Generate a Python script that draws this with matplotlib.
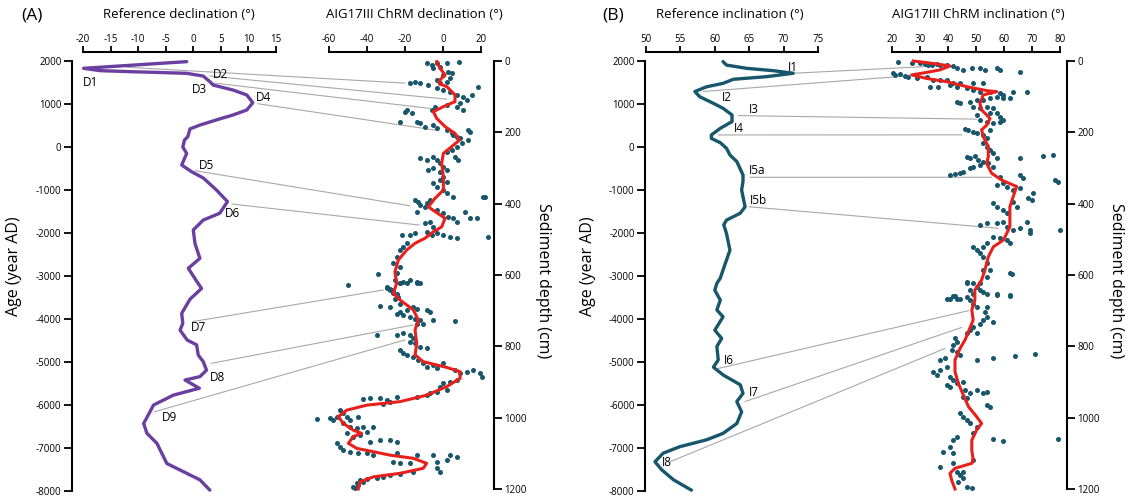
import numpy as np
import matplotlib.pyplot as plt
from matplotlib.patches import ConnectionPatch

plt.rcParams['font.family'] = ['Open Sans', 'DejaVu Sans']
plt.rcParams['axes.unicode_minus'] = False

# ---- panel A: reference declination curve (age in year AD, degrees)
refA_age = [1985, 1830, 1775, 1750, 1728, 1713, 1650, 1520, 1440, 1325, 1210, 1030, 860, 745,
            630, 510, 420, 240, 160, 0, -150, -420, -575, -720, -1000, -1270, -1540, -1700,
            -1930, -2240, -2590, -2820, -3100, -3290, -3540, -3870, -4100, -4260, -4490,
            -4600, -4840, -4990, -5190, -5340, -5420, -5610, -5770, -6000, -6430, -6660,
            -6890, -7360, -7550, -7740, -7980]
refA_val = [-1.2, -19.9, -16.9, -10.9, -4.8, -1.2, 1.8, 3.0, 3.6, 7.2, 9.7, 10.8, 9.7, 7.2,
            4.2, 1.2, -0.6, -1.0, -1.6, -1.9, -1.2, -2.1, -0.3, 1.8, 4.2, 6.2, 4.8, 1.8,
            0.0, 0.3, 1.2, -0.9, 0.5, 1.5, -0.6, -2.1, -1.9, -2.4, -1.1,
            0.6, 0.9, 1.8, 2.4, 1.2, -1.5, 1.1, -3.6, -7.2, -9.0, -8.4,
            -6.6, -4.8, -1.8, 1.2, 3.0]

# smoothed ChRM declination (depth cm, degrees)
fitA_depth = [2, 20, 39, 53, 63, 72, 95, 114, 128, 142, 161, 184, 203, 222, 240, 259, 287, 324,
              362, 385, 409, 422, 441, 465, 479, 497, 511, 530, 558, 591, 623, 651, 670, 698,
              726, 754, 792, 824, 843, 859, 871, 890, 913, 937, 955, 965, 979, 997, 1016,
              1035, 1044, 1053, 1072, 1086, 1105, 1114, 1128, 1142, 1156, 1166, 1180, 1200]
fitA_val = [-3.3, -1.6, 1.1, -1.6, -2.0, 2.0, 6.3, 6.3, 0.2, -5.1, -3.3, 1.1, 6.3, 8.6, 4.6,
            0.2, -0.7, 0.2, 0.2, -4.2, -7.7, -4.2, 1.1, -0.7, -5.1, -9.5, -14.7, -19.1, -23.5,
            -25.3, -24.4, -26.1, -22.6, -15.6, -13.0, -14.7, -13.8, -14.7, -10.4, 1.9, 9.0,
            9.0, 1.9, -8.6, -22.6, -40.2, -50.7, -55.1, -52.5, -47.2, -42.8, -47.2, -49.8,
            -45.4, -27.9, -15.6, -8.6, -10.4, -22.6, -36.7, -43.7, -44.6]

# individual ChRM declinations (depth cm, degrees)
ptsA_depth = [7, 11, 5, 5, 2, 21, 16, 30, 35, 39, 49, 58, 53, 63, 63, 58, 63, 67, 77, 81, 86, 95,
              100, 109, 95, 72, 119, 136, 128, 123, 128, 136, 142, 137, 147, 170, 170, 175, 184,
              180, 189, 194, 203, 208, 212, 217, 194, 198, 222, 231, 240, 250, 254, 268, 278,
              273, 278, 268, 278, 287, 296, 306, 310, 301, 306, 324, 334, 338, 343, 352, 362,
              371, 380, 390, 394, 404, 408, 423, 390, 399, 418, 427, 437, 441, 451, 423, 441,
              441, 380, 380, 455, 451, 465, 479, 488, 483, 488, 493, 497, 493, 488, 488, 481,
              511, 521, 530, 549, 567, 577, 595, 614, 623, 619, 614, 619, 622, 598, 628, 637,
              642, 651, 661,
              638, 642, 633, 623, 623, 623, 652, 666, 680, 687, 689, 708, 703, 698, 689, 694,
              698, 703, 712, 717, 722, 726, 736, 736, 726, 728, 768, 768, 764, 768, 778, 787,
              792, 801, 806, 810, 820, 824, 829, 838, 848, 857, 852, 862, 848, 866, 876, 871,
              866, 876, 885, 894, 899, 904, 913, 923, 927, 932, 937, 941, 943, 951, 946, 946,
              949, 955, 962, 979, 988, 997, 1007, 1002, 1005, 997, 1007, 997, 1016, 1025, 1030,
              1025, 1025, 1044, 1053, 1049, 1039, 1072, 1082, 1091, 1096, 1100, 1067, 1063,
              1063, 1067, 1100, 1105, 1100, 1105, 1105, 1105, 1110, 1124, 1119, 1124, 1128,
              1128, 1142, 1152, 1152, 1159, 1161, 1166, 1168, 1173, 1175, 1184, 1194, 1198,
              1189, 1180]
ptsA_val = [-8.6, -6.0, -3.3, 1.9, 8.6, -5.1, -1.6, 2.8, 4.6, 0.2, 3.7, 1.9, -3.3, -1.6, -17.4,
            -14.7, -12.1, -7.7, -3.3, 0.2, 3.7, 7.2, 10.7, 12.5, 15.1, 18.6, 8.9, 10.7, 7.2,
            1.9, -4.2, -6.0, -20.0, -19.1, -16.5, -22.6, -13.9, -12.1, -9.5, -5.1, -3.3, 1.9,
            4.6, 5.4, 7.2, 8.9, 13.3, 14.2, 13.3, 9.8, 7.2, 4.6, 1.9, 6.3, 8.1, -12.1, -8.6,
            -5.1, -3.3, -1.6, 0.2, 1.9, -1.6, -5.1, -7.7, 0.2, -1.6, 1.9, -5.1, -3.3, 0.2,
            1.9, 5.4, -14.7, -13.0, -12.1, -9.5, -13.9, -6.8, -8.6, -3.3, 0.2, 2.8, 5.4, 7.2,
            11.6, 14.2, 17.7, 21.2, 22.1, -9.5, -6.8, -5.1, -8.6, -6.0, -3.3, 0.2, 3.7, 7.2,
            23.9, -21.8, -17.4, -14.7, -19.1, -20.9, -22.6, -24.4, -26.1, -22.6, -24.4, -25.3,
            -22.6, -20.9, -17.4, -13.9, -12.1, -34.0, -49.8, -29.6, -27.9, -26.1, -23.5,
            -27.9, -26.1, -29.6, -22.6, -19.1, -13.9, -24.4, -25.3, -22.6, -33.2, -27.9,
            -24.4, -22.6, -19.1, -15.6, -13.9, -8.6, -6.8, -20.9, -17.4, -14.7, -12.1, -13.9,
            -10.4, -5.1, 6.3, -24.4, -34.9, -20.9, -17.4, -15.6, -17.4, -14.7, -12.1, -8.6,
            -22.6, -20.9, -19.1, -15.6, -13.0, -10.4, -8.6, -5.1, -3.3, 0.2, 6.3, 8.9, 12.5,
            16.0, 19.5, 20.4, 7.2, 3.7, 0.2, -1.6, 1.9, -3.3, -6.8, -8.6, -13.9, -24.4, -29.6,
            -33.2, -38.4, -41.9, -27.9, -31.4, -54.2, -52.5, -56.0, -57.7, -59.5, -66.5,
            -50.7, -48.9, -44.6, -52.5, -48.9, -45.4, -41.9, -36.7, -50.7, -47.2, -43.7,
            -40.2, -56.0, -54.2, -52.5, -48.9, -44.6, -38.4, -33.2, -27.9, -24.4, -40.2,
            -36.7, -24.4, -13.9, -5.1, 3.7, 7.2, -3.3, 1.9, -26.1, -22.6, -17.4, -3.3, -1.6,
            -15.6, -22.6, -27.9, -31.4, -34.9, -40.2, -43.7, -45.4, -47.2, -46.3, -44.6, -41.9]

# tie points D1-D9: (age, ref value) -> (depth, ChRM value)
tieA_names = ['D1', 'D2', 'D3', 'D4', 'D5', 'D6', 'D7', 'D8', 'D9']
tieA_age = [1855, 1651, 1490, 1007, -551, -1326, -4060, -5030, -6160]
tieA_ref = [-12.0, 3.0, 3.6, 11.7, 0.3, 7.0, -0.1, 3.3, -7.1]
tieA_depth = [62, 107, 133, 195, 406, 460, 642, 740, 782]
tieA_val = [-20.0, 2.0, -6.8, -2.6, -17.4, -12.5, -31.4, -15.6, -20.0]
labA_age = [1495, 1686, 1326, 1140, -419, -1547, -4209, -5349, -6302]
labA_ref = [-18.7, 4.9, 1.1, 12.7, 2.4, 7.1, 0.9, 4.4, -4.3]

# ---- panel B: reference inclination curve
refB_age = [1985, 1905, 1830, 1775, 1715, 1635, 1575, 1480, 1400, 1290, 1170, 1015, 900, 745,
            590, 435, 280, 200, 100, -30, -185, -340, -650, -800, -1000, -1390, -1540, -1700,
            -1810, -2010, -2400, -2630, -2860, -3050, -3170, -3330, -3560, -3790, -3950,
            -4260, -4450, -4640, -4950, -5120, -5300, -5530, -5730, -5920, -6160, -6430,
            -6660, -6810, -6970, -7120, -7320, -7510, -7740, -7980]
refB_val = [61.2, 61.7, 64.6, 68.5, 71.4, 67.5, 62.7, 61.2, 58.8, 57.1, 57.8, 59.8, 61.2, 62.5,
            62.5, 60.8, 59.5, 59.5, 60.8, 61.7, 62.2, 63.2, 64.1, 64.1, 63.9, 64.4, 63.7, 61.7,
            61.3, 61.7, 62.2, 61.7, 61.2, 60.8, 60.3, 60.0, 60.8, 60.3, 61.2,
            60.0, 61.0, 60.3, 60.5, 59.8, 61.2, 63.7, 64.1, 63.2, 63.9, 63.2,
            61.2, 58.8, 54.9, 52.5, 51.3, 52.3, 54.0, 56.6]

fitB_depth = [0, 7, 14, 25, 32, 39, 49, 58, 72, 83, 86, 95, 119, 137, 161, 180, 193, 212, 240,
              268, 287, 315, 334, 352, 380, 409, 437, 465, 502, 521, 549, 586, 614, 642, 670,
              698, 726, 759, 782, 806, 838, 871, 904, 937, 969, 997, 1016, 1035, 1063, 1091,
              1119, 1128, 1142, 1156, 1175, 1200]
fitB_val = [27.6, 34.8, 40.7, 37.1, 32.4, 27.0, 32.4, 39.5, 46.7, 53.8, 57.4, 52.6, 51.4, 52.0,
            55.0, 53.8, 52.0, 52.6, 54.4, 54.4, 53.8, 55.6, 59.2, 64.5, 63.3, 62.1, 62.1, 62.1,
            59.8, 56.2, 54.4, 53.2, 52.0, 49.6, 49.6, 48.5, 49.0, 47.3, 46.1, 44.3, 42.5,
            42.5, 43.7, 45.5, 47.3, 50.2, 52.0, 50.2, 48.5, 48.5, 49.0, 48.5, 42.5, 40.7,
            41.3, 42.5]

ptsB_depth = [2, 5, 7, 8, 11, 11, 8, 11, 11, 14, 21, 25, 21, 21, 25, 21, 25, 30, 35, 39, 37, 42,
              44, 49, 44, 53, 53, 53, 61, 63, 61, 61, 72, 72, 67, 72, 77, 81, 86, 86, 91, 95, 86,
              86, 114, 117, 114, 109, 109, 105, 100, 105, 105, 128, 133, 128, 133, 147, 147, 156,
              165, 151, 165, 170, 175, 170, 191, 194, 198, 203, 208, 217, 194, 231, 240, 250,
              259, 268, 273, 266, 278, 282, 287, 273, 273, 266, 264, 320, 317, 313, 310, 301,
              296, 292, 296, 324, 343, 320, 329, 348, 352, 362, 357, 371, 385, 390, 334, 338,
              399, 408, 418, 427, 394, 408, 460, 455, 455, 451, 465, 474, 469, 451, 474, 483,
              474, 493, 497, 502, 511, 511, 521, 521, 530, 539, 549, 567, 586, 586, 605, 623,
              619, 642, 652, 647, 595, 597, 666, 659, 666, 656, 659,
              622, 623, 633, 642, 652, 652, 656, 666, 659, 666, 661, 670, 680, 689, 689, 703,
              717, 726, 731, 736, 745, 754, 764, 764, 778, 787, 796, 810, 815, 824, 838, 834,
              838, 834, 827, 822, 871, 881, 867, 857, 885, 895, 909, 913, 904, 899, 923, 932,
              923, 932, 927, 965, 969, 941, 946, 988, 997, 1007, 1016, 1025, 1044, 1061, 1065,
              1061, 1053, 1063, 1082, 1096, 1100, 1119, 1128, 1138, 1152, 1161, 1170, 1180,
              1194, 1198, 1152]
ptsB_val = [22.3, 27.0, 30.0, 31.8, 33.0, 34.2, 36.0, 37.1, 39.5, 41.9, 43.1, 45.5, 48.5, 51.4,
            53.2, 57.4, 58.6, 65.7, 20.5, 21.1, 22.9, 24.6, 25.8, 28.8, 32.4, 34.8, 37.1, 39.5,
            41.9, 44.3, 49.0, 52.6, 33.6, 36.5, 40.7, 43.1, 46.7, 49.0, 51.4, 55.0, 58.6, 59.8,
            63.3, 68.1, 43.1, 44.3, 47.9, 50.2, 52.6, 55.0, 57.4, 59.8, 62.1, 49.0, 51.4, 53.8,
            56.2, 55.0, 57.4, 58.6, 59.8, 50.2, 51.4, 53.8, 56.2, 58.6, 46.1, 47.3, 49.0, 50.2,
            52.6, 53.8, 55.0, 52.6, 53.8, 55.0, 56.2, 46.7, 47.9, 49.6, 50.8, 52.6, 54.4, 57.4,
            65.7, 74.0, 77.6, 40.7, 42.5, 44.3, 45.5, 47.9, 49.0, 51.4, 56.2, 58.6, 59.8, 65.7,
            66.9, 57.4, 61.0, 63.3, 65.7, 70.5, 68.7, 69.9, 78.2, 79.4, 56.2, 57.4, 59.8, 61.0,
            63.3, 64.5, 51.4, 53.8, 57.4, 59.8, 61.0, 63.3, 65.7, 68.1, 69.3, 69.3, 80.0, 56.2,
            58.6, 61.0, 62.1, 53.8, 52.6, 49.0, 50.2, 51.4, 52.6, 53.8, 55.0, 52.6, 53.8, 51.4,
            46.7, 47.9, 49.0, 52.6, 62.1, 62.7, 40.7, 42.5, 44.3, 57.4, 62.1,
            46.7, 49.0, 50.2, 51.4, 53.8, 57.4, 62.1, 39.5, 41.9, 43.1, 46.7, 47.9, 49.0, 50.2,
            53.8, 53.2, 53.8, 52.6, 56.2, 51.4, 49.0, 47.9, 50.2, 46.7, 42.5, 43.1, 41.9, 41.3,
            43.1, 44.3, 37.1, 38.9, 50.2, 56.2, 63.9, 71.1, 34.8, 36.0, 37.1, 39.5, 40.7, 41.9,
            39.5, 40.7, 43.1, 45.5, 46.1, 47.9, 50.2, 52.6, 53.8, 53.8, 55.0, 45.5, 46.7, 44.3,
            45.5, 46.7, 47.9, 50.2, 49.0, 56.2, 59.8, 79.4, 43.1, 41.9, 40.7, 38.3, 41.9, 49.0,
            41.9, 37.1, 43.1, 44.3, 45.5, 43.7, 46.7, 48.5, 45.5]

tieB_names = ['I1', 'I2', 'I3', 'I4', 'I5a', 'I5b', 'I6', 'I7', 'I8']
tieB_age = [1715, 1290, 730, 280, -705, -1390, -5150, -5920, -7320]
tieB_ref = [71.4, 58.3, 63.4, 60.5, 65.1, 65.0, 60.5, 64.4, 53.5]
tieB_depth = [16, 42, 163, 207, 326, 469, 700, 747, 806]
tieB_val = [31.2, 25.2, 50.2, 44.9, 55.6, 58.0, 47.3, 44.9, 38.9]
labB_age = [1849, 1140, 872, 430, -558, -1244, -4965, -5698, -7337]
labB_ref = [71.4, 61.8, 65.7, 63.5, 66.1, 66.4, 62.1, 65.7, 53.1]

purple = '#6b3fa0'
teal = '#17566b'
red = '#e8201c'

W, H = 1128, 497
fig = plt.figure(figsize=(W / 100, H / 100), dpi=100)


def box(l, t, r, b):
    return fig.add_axes([l / W, 1 - b / H, (r - l) / W, (b - t) / H])


def style(ax, side, off_side, off_top):
    for s in ['left', 'right', 'top', 'bottom']:
        ax.spines[s].set_visible(s in (side, 'top'))
        ax.spines[s].set_linewidth(1.5)
    ax.spines[side].set_position(('outward', off_side))
    ax.spines['top'].set_position(('outward', off_top))
    ax.patch.set_visible(False)
    ax.xaxis.tick_top()
    if side == 'right':
        ax.yaxis.tick_right()
    ax.tick_params(axis='x', direction='out', length=4.5, width=1.3, pad=0.5, labelsize=7)
    ax.tick_params(axis='y', direction='out', length=5.5, width=1.3, pad=2, labelsize=7)


def panel(boxes, offs, ref_age, ref_val, ref_col, ref_lim, ref_ticks,
          fit_d, fit_v, pts_d, pts_v, dep_lim, dep_ticks,
          names, t_age, t_ref, t_dep, t_val, l_age, l_ref, txt):
    ax = box(*boxes[0])
    style(ax, 'left', offs[0], 6.5)
    ax.plot(ref_val, ref_age, color=ref_col, lw=2.4, solid_joinstyle='round',
            solid_capstyle='round', clip_on=False)
    ax.set_xlim(*ref_lim)
    ax.set_xticks(ref_ticks)
    ax.set_ylim(-8000, 2000)
    ax.set_yticks(np.arange(-8000, 2001, 1000))
    for n, a, v in zip(names, l_age, l_ref):
        ax.text(v, a, n, fontsize=8.5, ha='center', va='center')

    ax2 = box(*boxes[1])
    style(ax2, 'right', offs[1], 6.5)
    ax2.scatter(pts_v, pts_d, s=13, color=teal, lw=0, zorder=2, clip_on=False)
    ax2.plot(fit_v, fit_d, color=red, lw=2.2, zorder=3, clip_on=False)
    ax2.set_xlim(*dep_lim)
    ax2.set_xticks(dep_ticks)
    ax2.set_ylim(1200, 0)
    ax2.set_yticks(np.arange(0, 1201, 200))

    # grey tie lines from reference features to the core
    for a, r, d, v in zip(t_age, t_ref, t_dep, t_val):
        con = ConnectionPatch(xyA=(r, a), coordsA=ax.transData, xyB=(v, d),
                              coordsB=ax2.transData, color='#a8a8a8', lw=0.8, zorder=-1)
        fig.add_artist(con)

    for x, s, kw in txt:
        fig.text(x / W, 1 - 15 / H, s, ha='center', va='center', **kw)
    return ax, ax2


panel([(83, 61, 276, 491), (329, 61, 481, 489)], (8, 9.4),
      refA_age, refA_val, purple, (-20, 15), np.arange(-20, 16, 5),
      fitA_depth, fitA_val, ptsA_depth, ptsA_val, (-60, 20), np.arange(-60, 21, 20),
      tieA_names, tieA_age, tieA_ref, tieA_depth, tieA_val, labA_age, labA_ref,
      [(32, '(A)', dict(fontsize=12.5)),
       (179, 'Reference declination (°)', dict(fontsize=9.5)),
       (414, 'AIG17III ChRM declination (°)', dict(fontsize=9.5))])

panel([(646, 61, 818, 491), (892, 61, 1060, 489)], (0.7, 5),
      refB_age, refB_val, teal, (50, 75), np.arange(50, 76, 5),
      fitB_depth, fitB_val, ptsB_depth, ptsB_val, (20, 80), np.arange(20, 81, 10),
      tieB_names, tieB_age, tieB_ref, tieB_depth, tieB_val, labB_age, labB_ref,
      [(613, '(B)', dict(fontsize=12.5)),
       (730, 'Reference inclination (°)', dict(fontsize=9.5)),
       (978, 'AIG17III ChRM inclination (°)', dict(fontsize=9.5))])

for x in (14, 588):
    fig.text(x / W, 1 - 266 / H, 'Age (year AD)', rotation=90, ha='center', va='center',
             fontsize=11.5)
for x in (543, 1116):
    fig.text(x / W, 1 - 281 / H, 'Sediment depth (cm)', rotation=270, ha='center',
             va='center', fontsize=11.5)

fig.savefig('out.png', dpi=100)
